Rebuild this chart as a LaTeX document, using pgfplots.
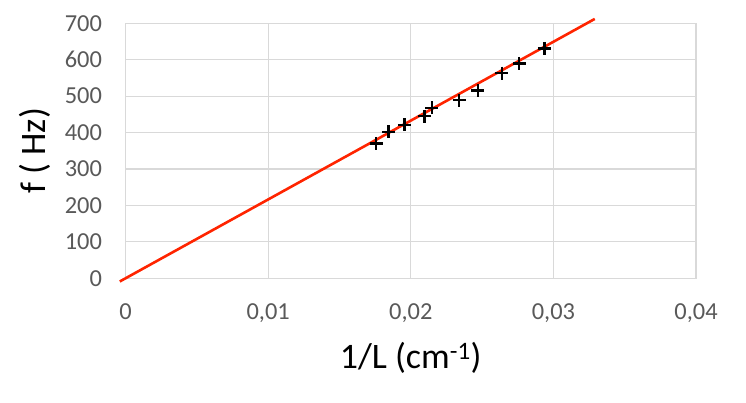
\documentclass[border=0pt]{standalone}
\usepackage{pgfplots}
\pgfplotsset{compat=1.18}
\usepackage{fontspec}
\setmainfont{Carlito}
\definecolor{tickgray}{RGB}{89,89,89}
\definecolor{gridgray}{RGB}{217,217,217}
\definecolor{fitred}{RGB}{255,36,0}
\begin{document}
\begin{tikzpicture}[x=1bp,y=1bp]
\useasboundingbox (-125.5,-123.7) rectangle (620.5,278.3);
\begin{axis}[
  at={(0,0)}, anchor=south west,
  scale only axis, width=570.5bp, height=255bp,
  xmin=0, xmax=0.04, ymin=0, ymax=700,
  xtick={0,0.01,0.02,0.03,0.04},
  xticklabels={0,{0,01},{0,02},{0,03},{0,04}},
  scaled x ticks=false,
  ytick={0,100,200,300,400,500,600,700},
  major tick length=0pt,
  grid=major,
  major grid style={gridgray, line width=1.2bp},
  axis line style={gridgray, line width=1.2bp},
  tick label style={font=\fontsize{24.5}{28}\selectfont, text=tickgray},
  /pgf/number format/assume math mode=true,
  xticklabel style={yshift=-22bp},
  yticklabel style={xshift=-20bp},
  xlabel={1/L (cm\textsuperscript{-1})},
  ylabel={f ( Hz)},
  label style={font=\fontsize{36}{40}\selectfont, text=black},
  xlabel style={at={(axis description cs:0.5,0)}, anchor=center, yshift=-80bp},
  ylabel style={at={(axis description cs:-0.1586,0.5)}, anchor=center},
  clip=false,
]
\addplot[fitred, line width=2.6bp] coordinates {(-0.0004,-8.7) (0.0329,712)};
\addplot[only marks, mark=+, mark size=6.5bp, mark options={black, line width=2.4bp}] coordinates {
  (0.01757,370.6)
  (0.01843,402)
  (0.01956,421)
  (0.02095,445.5)
  (0.02147,468)
  (0.02339,489)
  (0.02470,516)
  (0.02638,563)
  (0.02761,590)
  (0.02937,631)
};
\end{axis}
\end{tikzpicture}
\end{document}
